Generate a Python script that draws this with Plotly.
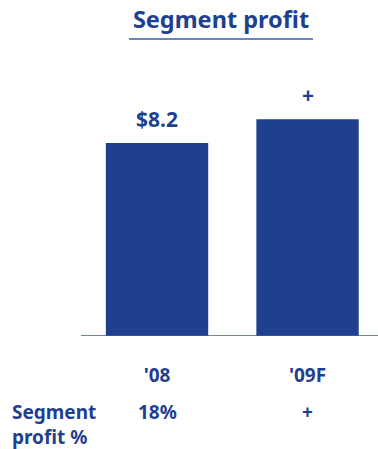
import plotly.graph_objects as go

categories = ["'08", "'09F"]
values = [8.2, 9.2]
bar_labels = ["$8.2", "+"]
row_label = "Segment<br>profit %"
row_values = ["18%", "+"]
title_text = "Segment profit"

BLUE = "#1F3F8F"
FONT = "Noto Sans"

fig = go.Figure()
fig.add_trace(go.Bar(
    x=categories, y=values, marker=dict(color=BLUE, line=dict(width=0)),
    width=0.68, hoverinfo="skip",
))

ann = []
for c, v, t in zip(categories, values, bar_labels):
    ann.append(dict(x=c, y=v, xref="x", yref="y", text=f"<b>{t}</b>", showarrow=False,
                    yanchor="bottom", yshift=8, font=dict(family=FONT, size=21, color=BLUE)))
for c, t in zip(categories, row_values):
    ann.append(dict(x=c, y=0, xref="x", yref="y", text=f"<b>{t}</b>", showarrow=False,
                    yanchor="middle", yshift=-76, font=dict(family=FONT, size=19, color=BLUE)))
ann.append(dict(x=0, y=0, xref="paper", yref="y", text=f"<b>{row_label}</b>", showarrow=False,
                xanchor="left", yanchor="top", xshift=-71, yshift=-61, align="left",
                font=dict(family=FONT, size=19, color=BLUE)))

fig.update_layout(
    width=378, height=449,
    margin=dict(l=81, r=0, t=60, b=113),
    plot_bgcolor="white", paper_bgcolor="white",
    showlegend=False,
    title=dict(text=f"<b>{title_text}</b>", x=221/378, xanchor="center", y=1-20/449, yanchor="middle",
               font=dict(family=FONT, size=23.5, color=BLUE)),
    xaxis=dict(range=[-0.505, 1.468], showgrid=False, zeroline=False, showline=False,
               ticks="", tickfont=dict(family=FONT, size=19, color=BLUE),
               ticklabelstandoff=26, fixedrange=True),
    yaxis=dict(range=[0, 11.72], visible=False, fixedrange=True),
    shapes=[
        dict(type="line", xref="paper", yref="y", x0=0, x1=1, y0=0, y1=0,
             line=dict(color="#3A5BA8", width=1.5)),
        dict(type="line", xref="paper", yref="paper", x0=(129-81)/297, x1=(313-81)/297,
             y0=1+(60-39)/276, y1=1+(60-39)/276, line=dict(color="#3A5BA8", width=1.5)),
    ],
    annotations=ann,
)
fig.update_xaxes(tickvals=categories, ticktext=[f"<b>{c}</b>" for c in categories])

fig.write_html("out.html", config={"displayModeBar": False, "staticPlot": True},
               post_script="document.body.style.margin='0';document.body.style.padding='0';")
